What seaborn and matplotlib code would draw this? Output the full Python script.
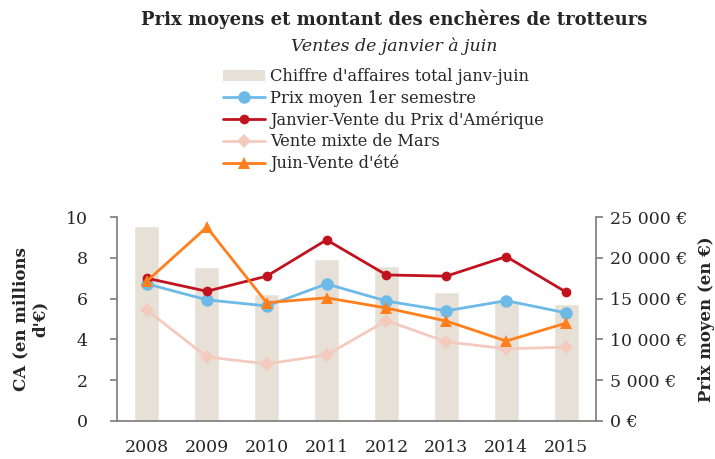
import matplotlib
matplotlib.use("Agg")
import matplotlib.pyplot as plt
import matplotlib.ticker as mticker
from matplotlib.patches import Patch
from matplotlib.lines import Line2D
import numpy as np
import pandas as pd
import seaborn as sns

sns.set_theme(style="white")
plt.rcParams['font.family'] = ['DejaVu Serif']

# data
years = ["2008", "2009", "2010", "2011", "2012", "2013", "2014", "2015"]
ca_millions = [9.56, 7.55, 6.23, 7.94, 7.6, 6.32, 5.9, 5.73]
prix_moyen = [16800, 14850, 14100, 16800, 14700, 13500, 14750, 13250]
janvier = [17500, 15900, 17750, 22200, 17900, 17750, 20150, 15800]
mars = [13600, 7850, 7000, 8100, 12300, 9700, 8850, 9050]
juin = [17150, 23750, 14500, 15100, 13850, 12250, 9800, 12000]

c_bar = "#E7E0D6"
c_blue = "#6DBAE8"
c_red = "#C1121F"
c_pink = "#F4CABF"
c_orange = "#FF7F1C"
c_spine = "#808080"

fig = plt.figure(figsize=(7.15, 4.59), dpi=100)
ax = fig.add_axes([0.1636, 0.0828, 0.67, 0.4444])

df_bar = pd.DataFrame({"year": years, "ca": ca_millions})
sns.barplot(data=df_bar, x="year", y="ca", color=c_bar, width=0.42,
            saturation=1, ax=ax, zorder=1)
ax.set_ylim(0, 10)
ax.set_xlim(-0.5, 7.5)
ax.set_yticks(np.arange(0, 11, 2))
ax.set_xlabel("")
ax.set_ylabel("CA (en millions\nd'€)", fontsize=12, fontweight="bold", labelpad=12)

ax2 = ax.twinx()
x = np.arange(len(years))
series = [
    (prix_moyen, c_blue, "o", 9, 3),
    (janvier, c_red, "o", 7, 4),
    (mars, c_pink, "D", 7, 2),
    (juin, c_orange, "^", 8, 5),
]
for vals, col, mk, ms, z in series:
    sns.lineplot(x=x, y=vals, color=col, marker=mk, markersize=ms,
                 markeredgewidth=0, linewidth=2, ax=ax2, zorder=z)
ax2.set_ylim(0, 25000)
ax2.set_xlim(-0.5, 7.5)
ax2.set_yticks(np.arange(0, 25001, 5000))
ax2.yaxis.set_major_formatter(mticker.FuncFormatter(
    lambda v, p: ("{:,.0f}".format(v).replace(",", " ") + " €")))
ax2.set_ylabel("Prix moyen (en €)", fontsize=12, fontweight="bold", labelpad=8)

# category ticks between the bars
ax.set_xticks(x)
ax.set_xticklabels(years)
ax.set_xticks(np.arange(-0.5, 8, 1), minor=True)
ax.tick_params(axis="x", which="major", length=0, pad=13, labelsize=12.5)
ax.tick_params(axis="x", which="minor", length=5, color=c_spine, width=1, direction="out")
ax.tick_params(axis="y", length=5, color=c_spine, direction="out", labelsize=12.5, pad=16, left=True)
ax2.tick_params(axis="y", length=5, color=c_spine, direction="out", labelsize=12.5, pad=5, right=True)
for a in (ax, ax2):
    a.spines["top"].set_visible(False)
    for s in ("left", "right", "bottom"):
        a.spines[s].set_color(c_spine)
ax.spines["right"].set_visible(False)
ax2.spines["left"].set_visible(False)
ax2.spines["bottom"].set_visible(False)

fig.text(0.551, 0.957, "Prix moyens et montant des enchères de trotteurs",
         ha="center", va="center", fontsize=13, fontweight="bold")
fig.text(0.551, 0.9, "Ventes de janvier à juin",
         ha="center", va="center", fontsize=12.5, style="italic")

handles = [
    Patch(facecolor=c_bar, edgecolor="none"),
    Line2D([], [], color=c_blue, marker="o", markersize=9, markeredgewidth=0, linewidth=2),
    Line2D([], [], color=c_red, marker="o", markersize=7, markeredgewidth=0, linewidth=2),
    Line2D([], [], color=c_pink, marker="D", markersize=7, markeredgewidth=0, linewidth=2),
    Line2D([], [], color=c_orange, marker="^", markersize=8, markeredgewidth=0, linewidth=2),
]
labels = ["Chiffre d'affaires total janv-juin", "Prix moyen 1er semestre",
          "Janvier-Vente du Prix d'Amérique", "Vente mixte de Mars", "Juin-Vente d'été"]
fig.legend(handles, labels, loc="center", bbox_to_anchor=(0.536, 0.738), frameon=False,
           fontsize=11.7, handlelength=2.6, handletextpad=0.3, labelspacing=0.28,
           borderpad=0)

fig.savefig("out.png", dpi=100)
